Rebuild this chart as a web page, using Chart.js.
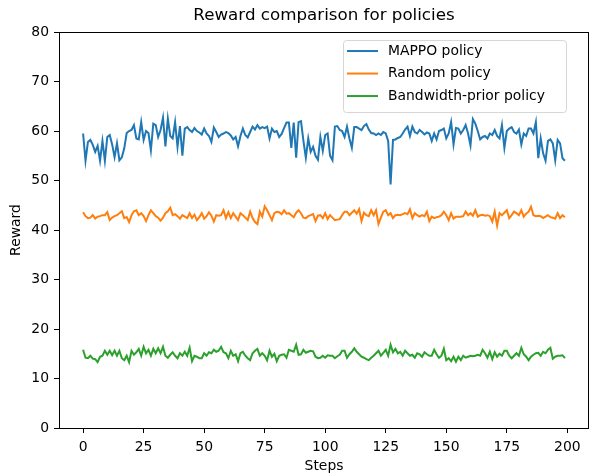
<!DOCTYPE html>
<html>
<head>
<meta charset="utf-8">
<script src="https://cdn.jsdelivr.net/npm/chart.js@4.4.0/dist/chart.umd.min.js"></script>
<style>
  html, body { margin: 0; padding: 0; background: #fff; }
  canvas { display: block; }
</style>
</head>
<body>
<canvas id="reward_chart" width="589" height="476"></canvas>
<script>
// step index 0..199
const steps = Array.from({ length: 200 }, (_, i) => i);

const mappoReward = [
  59.5, 54.0, 57.8, 58.2, 57.2, 55.8, 57.0, 54.0, 58.0, 54.0,
  58.8, 59.2, 57.3, 54.7, 57.5, 54.1, 54.7, 56.5, 59.6, 60.0,
  60.2, 61.2, 58.5, 58.3, 61.8, 58.2, 60.0, 59.6, 56.1, 61.5,
  61.2, 58.8, 60.2, 62.7, 56.9, 62.5, 59.0, 58.5, 61.8, 56.8,
  61.0, 55.0, 60.5, 60.8, 60.2, 59.8, 60.6, 60.0, 59.7, 59.3,
  60.5, 59.5, 59.0, 57.8, 60.7, 59.8, 58.8, 59.3, 59.5, 59.8,
  59.6, 59.1, 58.3, 58.8, 56.9, 59.0, 60.5, 59.2, 58.7, 59.8,
  60.9, 60.3, 61.2, 60.5, 60.8, 60.6, 60.9, 58.5, 60.5, 59.8,
  60.0, 58.8, 59.4, 60.6, 61.7, 61.7, 56.6, 61.7, 54.6, 61.8,
  62.0, 58.0, 54.6, 58.5, 55.8, 56.8, 55.0, 54.2, 58.8, 56.0,
  59.2, 59.5, 55.0, 54.1, 60.9, 61.0, 60.2, 60.0, 58.8, 60.9,
  58.5, 56.6, 60.8, 60.8, 60.5, 60.2, 61.0, 61.4, 60.3, 59.6,
  59.5, 59.2, 59.5, 59.2, 59.8, 59.5, 58.0, 49.2, 58.2, 58.3,
  58.6, 58.8, 59.5, 60.3, 60.9, 59.0, 60.9, 59.8, 59.5, 60.2,
  59.8, 59.3, 59.7, 59.5, 58.0, 59.5, 58.3, 60.0, 60.2, 60.5,
  58.5, 59.5, 61.8, 57.3, 60.6, 60.5, 59.5, 60.2, 61.2, 59.5,
  57.1, 62.4, 61.5, 60.0, 58.3, 58.8, 59.0, 58.5, 59.5, 59.2,
  60.2, 59.0, 58.5, 61.2, 56.6, 60.0, 60.5, 60.8, 59.8, 59.5,
  60.3, 57.3, 59.5, 59.0, 60.5, 60.5, 59.5, 61.8, 54.5, 58.5,
  55.5, 54.0, 58.0, 58.3, 57.5, 54.1, 58.2, 57.5, 54.5, 54.0
];

const randomReward = [
  43.6, 42.8, 42.4, 42.5, 43.0, 42.3, 42.7, 42.8, 43.0, 43.0,
  43.6, 42.0, 42.5, 42.8, 43.0, 43.4, 43.8, 42.4, 42.6, 41.6,
  43.0, 43.8, 44.0, 43.0, 43.4, 42.8, 41.8, 43.0, 44.0, 43.4,
  42.8, 42.5, 41.9, 42.5, 43.4, 43.8, 44.5, 43.0, 43.2, 42.8,
  42.3, 43.0, 42.7, 42.4, 43.4, 42.4, 43.1, 42.0, 42.6, 43.4,
  42.3, 42.8, 43.6, 42.9, 41.7, 43.0, 42.9, 43.0, 44.0, 42.4,
  43.6, 42.4, 43.4, 42.7, 42.0, 43.4, 43.0, 42.5, 42.0, 43.7,
  42.4, 41.6, 41.2, 43.7, 42.7, 44.8, 44.0, 43.0, 42.0, 43.4,
  43.7, 43.6, 43.2, 44.0, 43.3, 43.4, 43.0, 42.6, 43.5, 44.0,
  43.4, 42.5, 42.4, 42.8, 43.0, 43.2, 41.8, 42.9, 43.0, 42.4,
  43.4, 42.2, 43.0, 42.5, 42.0, 42.1, 42.2, 43.0, 43.7, 43.7,
  43.0, 43.5, 44.0, 43.3, 44.2, 41.8, 43.5, 43.0, 42.8, 44.0,
  43.0, 44.0, 41.2, 42.5, 43.7, 44.0, 43.0, 43.4, 42.4, 43.0,
  43.1, 43.0, 43.2, 43.4, 43.2, 44.2, 42.4, 43.4, 43.0, 42.7,
  43.0, 42.8, 43.7, 41.8, 42.7, 42.4, 42.6, 42.7, 43.0, 43.7,
  43.0, 42.0, 43.4, 42.3, 42.7, 42.7, 42.7, 42.8, 43.7, 43.0,
  43.4, 42.9, 44.0, 42.7, 43.0, 43.1, 42.9, 43.0, 42.8, 41.7,
  43.7, 40.9, 43.4, 43.0, 43.5, 44.0, 42.4, 43.0, 43.7, 43.4,
  43.0, 44.0, 42.7, 43.3, 43.7, 44.7, 43.0, 42.8, 42.9, 42.8,
  42.4, 42.7, 43.0, 42.6, 42.5, 42.3, 43.4, 42.4, 43.0, 42.6
];

const bandwidthReward = [
  15.8, 14.2, 14.1, 14.6, 14.0, 13.9, 13.3, 14.4, 14.6, 15.6,
  14.8, 15.6, 14.7, 15.6, 14.6, 15.6, 14.1, 13.7, 14.6, 13.3,
  15.6, 14.8, 15.3, 16.0, 14.6, 16.4, 15.1, 15.8, 14.6, 16.0,
  15.1, 16.1, 15.1, 16.4, 14.6, 14.2, 14.8, 15.3, 14.6, 14.1,
  15.1, 14.6, 15.4, 14.6, 16.2, 13.5, 14.6, 14.4, 14.1, 14.1,
  15.1, 14.6, 15.3, 15.1, 15.8, 15.4, 15.6, 16.4, 15.3, 15.1,
  14.1, 15.6, 14.6, 14.9, 13.5, 15.1, 15.4, 14.6, 14.1, 13.7,
  15.1, 15.6, 16.0, 14.6, 15.1, 14.6, 13.7, 15.6, 14.4, 15.0,
  13.5, 14.6, 14.8, 14.9, 14.2, 15.8, 15.6, 15.4, 16.8, 14.8,
  14.9, 15.8, 15.2, 15.4, 15.6, 15.5, 14.4, 14.1, 14.2, 14.6,
  14.2, 14.7, 14.6, 14.6, 14.1, 14.5, 14.8, 15.6, 15.6, 14.2,
  14.9, 15.4, 16.1, 15.4, 14.9, 14.4, 14.2, 13.9, 13.7, 14.2,
  14.6, 15.1, 15.6, 14.6, 15.2, 15.8, 14.6, 16.8, 15.3, 16.0,
  15.1, 15.4, 14.6, 15.6, 15.1, 14.6, 14.8, 14.2, 15.1, 14.9,
  14.4, 15.3, 14.9, 14.6, 14.6, 15.8, 14.9, 14.2, 14.6, 16.0,
  13.7, 14.1, 13.5, 14.4, 13.4, 14.4, 13.7, 14.6, 14.2, 14.4,
  14.6, 14.5, 14.6, 14.8, 14.6, 15.8, 15.1, 14.2, 15.4, 13.9,
  15.3, 14.4, 15.0, 14.6, 15.6, 15.6, 14.6, 14.1, 14.6, 15.1,
  14.6, 16.2, 14.9, 14.4, 13.7, 14.4, 14.8, 15.1, 15.2, 14.6,
  15.4, 15.1, 15.8, 16.2, 14.0, 14.4, 14.6, 14.6, 14.7, 14.1
];

const seriesLabels = ["MAPPO policy", "Random policy", "Bandwidth-prior policy"];
const seriesColors = ["#1f77b4", "#ff7f0e", "#2ca02c"];
const xTicks = [0, 25, 50, 75, 100, 125, 150, 175, 200];
const yTicks = [0, 10, 20, 30, 40, 50, 60, 70, 80];

Chart.defaults.font.family = "'DejaVu Sans', sans-serif";
Chart.defaults.color = "#000";

function toPoints(values) {
  return values.map((v, i) => ({ x: steps[i], y: v }));
}

// top and right spines
const frame = {
  id: "frame",
  afterDraw(chart) {
    const { ctx, chartArea: a } = chart;
    ctx.save();
    ctx.strokeStyle = "#000";
    ctx.lineWidth = 1;
    ctx.beginPath();
    ctx.moveTo(a.left, Math.round(a.top) + 0.5);
    ctx.lineTo(a.right, Math.round(a.top) + 0.5);
    ctx.moveTo(Math.round(a.right) - 0.5, a.top);
    ctx.lineTo(Math.round(a.right) - 0.5, a.bottom);
    ctx.stroke();
    ctx.restore();
  },
};

// matplotlib style legend in the upper right
const legendBox = {
  id: "legendBox",
  afterDatasetsDraw(chart) {
    const { ctx, chartArea: a } = chart;
    const w = 223, h = 72;
    const x = a.right - 23 - w;
    const y = a.top + 8;
    ctx.save();
    ctx.beginPath();
    ctx.roundRect(x + 0.5, y + 0.5, w, h, 3);
    ctx.fillStyle = "rgba(255,255,255,0.8)";
    ctx.fill();
    ctx.strokeStyle = "#d6d6d6";
    ctx.lineWidth = 1;
    ctx.stroke();
    ctx.font = "13.9px 'DejaVu Sans', sans-serif";
    ctx.textBaseline = "middle";
    ctx.fillStyle = "#000";
    seriesLabels.forEach((label, i) => {
      const ly = y + 11 + i * 22.5;
      ctx.strokeStyle = seriesColors[i];
      ctx.lineWidth = 2;
      ctx.beginPath();
      ctx.moveTo(x + 4, ly);
      ctx.lineTo(x + 35, ly);
      ctx.stroke();
      ctx.fillText(label, x + 45, ly);
    });
    ctx.restore();
  },
};

new Chart(document.getElementById("reward_chart"), {
  type: "line",
  data: {
    datasets: [
      { label: seriesLabels[0], data: toPoints(mappoReward) },
      { label: seriesLabels[1], data: toPoints(randomReward) },
      { label: seriesLabels[2], data: toPoints(bandwidthReward) },
    ].map((ds, i) => ({
      ...ds,
      borderColor: seriesColors[i],
      backgroundColor: seriesColors[i],
      borderWidth: 2,
      pointRadius: 0,
      tension: 0,
      fill: false,
    })),
  },
  options: {
    responsive: false,
    animation: false,
    layout: { padding: { left: 0, right: 0, top: 0, bottom: 0 } },
    plugins: {
      legend: { display: false },
      tooltip: { enabled: false },
      title: {
        display: true,
        text: "Reward comparison for policies",
        fullSize: false,
        font: { size: 16.7, weight: "normal" },
        padding: { top: 6, bottom: 6 },
      },
    },
    scales: {
      x: {
        type: "linear",
        min: -9.95,
        max: 208.95,
        afterBuildTicks: (scale) => {
          scale.ticks = xTicks.map((v) => ({ value: v }));
        },
        afterFit: (scale) => {
          scale.height = 48;
        },
        ticks: { font: { size: 13.9 }, padding: 6, maxRotation: 0, autoSkip: false },
        grid: { drawOnChartArea: false, drawTicks: true, tickLength: 5, color: "#000" },
        border: { display: true, color: "#000", width: 1 },
        title: { display: true, text: "Steps", font: { size: 13.9 }, padding: { top: 0, bottom: 1 } },
      },
      y: {
        min: 0,
        max: 80,
        afterBuildTicks: (scale) => {
          scale.ticks = yTicks.map((v) => ({ value: v }));
        },
        afterFit: (scale) => {
          scale.width = 59;
        },
        ticks: { font: { size: 13.9 }, padding: 5 },
        grid: { drawOnChartArea: false, drawTicks: true, tickLength: 5, color: "#000" },
        border: { display: true, color: "#000", width: 1 },
        title: { display: true, text: "Reward", font: { size: 13.9 }, padding: { top: 8, bottom: 0 } },
      },
    },
  },
  plugins: [frame, legendBox],
});
</script>
</body>
</html>
